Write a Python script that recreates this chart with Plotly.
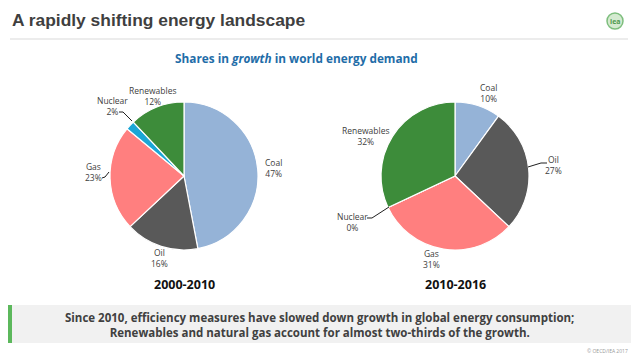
import plotly.graph_objects as go

categories = ["Coal", "Oil", "Gas", "Nuclear", "Renewables"]
shares_2000_2010 = [47, 16, 23, 2, 12]
shares_2010_2016 = [10, 27, 31, 0, 32]
period_labels = ["2000-2010", "2010-2016"]
colors = ["#95B3D7", "#595959", "#FF7F7F", "#1BA6D6", "#3D8C3A"]

W, H = 638, 359

fig = go.Figure()

def px_x(x):
    return x / W

def px_y(y):
    return 1 - y / H

r = 74
centers = [(184, 176), (455, 176)]
for vals, (cx, cy) in zip([shares_2000_2010, shares_2010_2016], centers):
    fig.add_trace(go.Pie(
        labels=categories, values=vals, sort=False, direction="clockwise", rotation=0,
        marker=dict(colors=colors, line=dict(color="white", width=1.2)),
        textinfo="none",
        domain=dict(x=[px_x(cx - r), px_x(cx + r)], y=[px_y(cy + r), px_y(cy - r)]),
        showlegend=False, hoverinfo="label+percent",
    ))

# label placement (pixel centres) for each slice, per pie
label_pos = [
    [(273, 167.5), (159, 258), (93, 172), (112, 106), (153, 96.5)],
    [(488, 93), (553, 165), (431, 258.5), (352, 221.5), (366, 136)],
]
leaders = [
    ["M 119 112 L 123 112 L 132 121", "M 102 178 L 105 177 L 109 172"],
    ["M 528 167 L 541 163 L 547 163", "M 367 218 L 372 218 L 389 207"],
]

ann = []
for vals, poss in zip([shares_2000_2010, shares_2010_2016], label_pos):
    for cat, v, (lx, ly) in zip(categories, vals, poss):
        ann.append(dict(x=px_x(lx), y=px_y(ly), xref="paper", yref="paper", xanchor="center",
                        yanchor="middle", text=f"{cat}<br>{v}%", showarrow=False, align="center",
                        font=dict(family="Open Sans", size=8.5, color="#404040")))

ann.append(dict(x=px_x(10), y=px_y(20), xref="paper", yref="paper", xanchor="left", yanchor="middle",
                text="<b>A rapidly shifting energy landscape</b>", showarrow=False,
                font=dict(family="Liberation Sans", size=17.4, color="#3F3F3F")))
ann.append(dict(x=px_x(296), y=px_y(58), xref="paper", yref="paper", xanchor="center", yanchor="middle",
                text="<b>Shares in <i>growth</i> in world energy demand</b>", showarrow=False,
                font=dict(family="Open Sans", size=11.8, color="#1F6DA8")))
for lbl, (cx, cy) in zip(period_labels, centers):
    ann.append(dict(x=px_x(cx), y=px_y(284), xref="paper", yref="paper", xanchor="center", yanchor="middle",
                    text=f"<b>{lbl}</b>", showarrow=False,
                    font=dict(family="Open Sans", size=12.5, color="#111111")))
summary_lines = [
    "Since 2010, efficiency measures have slowed down growth in global energy consumption;",
    "Renewables and natural gas account for almost two-thirds of the growth.",
]
ann.append(dict(x=px_x(319), y=px_y(324.5), xref="paper", yref="paper", xanchor="center", yanchor="middle",
                text="<b>" + "<br>".join(summary_lines) + "</b>", showarrow=False, align="center",
                font=dict(family="Open Sans", size=11.5, color="#404040")))
ann.append(dict(x=px_x(630), y=px_y(351), xref="paper", yref="paper", xanchor="right", yanchor="middle",
                text="© OECD/IEA 2017", showarrow=False,
                font=dict(family="Open Sans", size=5, color="#999999")))
ann.append(dict(x=px_x(615), y=px_y(21), xref="paper", yref="paper", xanchor="center", yanchor="middle",
                text="<b>iea</b>", showarrow=False,
                font=dict(family="Open Sans", size=7, color="#4E9A4E")))

def path_paper(d):
    parts = d.split()
    out = []
    i = 0
    while i < len(parts):
        cmd = parts[i]
        x, y = float(parts[i + 1]), float(parts[i + 2])
        out.append(f"{cmd} {px_x(x):.5f} {px_y(y):.5f}")
        i += 3
    return " ".join(out)

shapes = [
    dict(type="line", xref="paper", yref="paper", x0=px_x(10), x1=px_x(628), y0=px_y(39), y1=px_y(39),
         line=dict(color="#D9D9D9", width=1)),
    dict(type="rect", xref="paper", yref="paper", x0=px_x(8), x1=px_x(631), y0=px_y(343), y1=px_y(305),
         fillcolor="#F1F1F1", line=dict(width=0), layer="below"),
    dict(type="rect", xref="paper", yref="paper", x0=px_x(8), x1=px_x(12), y0=px_y(343), y1=px_y(305),
         fillcolor="#5CB85C", line=dict(width=0)),
    dict(type="circle", xref="paper", yref="paper", x0=px_x(607), x1=px_x(623), y0=px_y(29), y1=px_y(13),
         fillcolor="#D4EAD0", line=dict(color="#7DBE7D", width=1.5)),
]
for group in leaders:
    for d in group:
        shapes.append(dict(type="path", xref="paper", yref="paper", path=path_paper(d),
                           line=dict(color="#202020", width=1)))

fig.update_layout(width=W, height=H, margin=dict(l=0, r=0, t=0, b=0),
                  paper_bgcolor="white", plot_bgcolor="white",
                  annotations=ann, shapes=shapes)
fig.write_html("out.html", config={"displayModeBar": False},
               post_script="document.body.style.margin='0';document.body.style.overflow='hidden';")
